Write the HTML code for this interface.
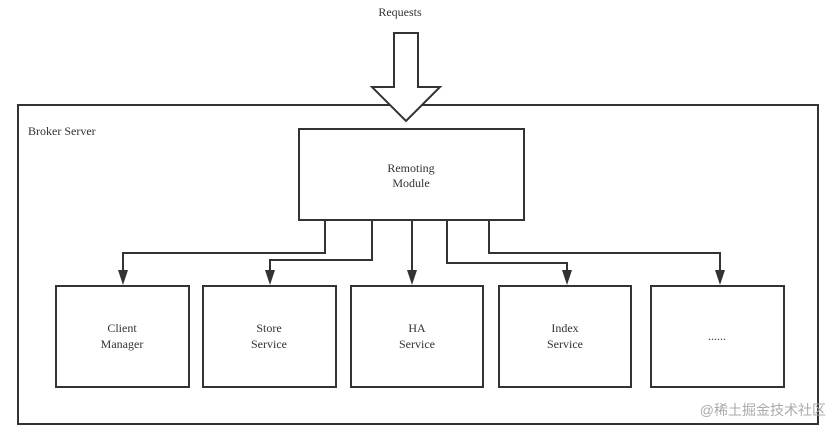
<!DOCTYPE html>
<html><head><style>
body{margin:0;background:#fff;}
svg text{font-family:"Liberation Serif",serif;font-size:12px;fill:#333;}
</style></head><body>
<svg width="835" height="428" viewBox="0 0 835 428" xmlns="http://www.w3.org/2000/svg">
<g stroke="#333" stroke-width="2" fill="none">
<rect x="18" y="105" width="800" height="319" fill="#fff"/>
<path d="M394,33 L418,33 L418,87 L440,87 L406,121 L372,87 L394,87 Z" fill="#fff"/>
<rect x="299" y="129" width="225" height="91" fill="#fff"/>
<rect x="56" y="286" width="133" height="101"/>
<rect x="203" y="286" width="133" height="101"/>
<rect x="351" y="286" width="132" height="101"/>
<rect x="499" y="286" width="132" height="101"/>
<rect x="651" y="286" width="133" height="101"/>
<path d="M325,220 V253 H123 V272"/>
<path d="M372,220 V260 H270 V272"/>
<path d="M412,220 V272"/>
<path d="M447,220 V263 H567 V272"/>
<path d="M489,220 V253 H720 V272"/>
</g>
<g fill="#333">
<path d="M118,270 L128,270 L123,285 Z"/>
<path d="M265,270 L275,270 L270,285 Z"/>
<path d="M407,270 L417,270 L412,285 Z"/>
<path d="M562,270 L572,270 L567,285 Z"/>
<path d="M715,270 L725,270 L720,285 Z"/>
</g>
<text x="400" y="16" text-anchor="middle">Requests</text>
<text x="28" y="135">Broker Server</text>
<text x="411" y="172" text-anchor="middle">Remoting</text>
<text x="411" y="187" text-anchor="middle">Module</text>
<text x="122" y="332" text-anchor="middle">Client</text>
<text x="122" y="348" text-anchor="middle">Manager</text>
<text x="269" y="332" text-anchor="middle">Store</text>
<text x="269" y="348" text-anchor="middle">Service</text>
<text x="417" y="332" text-anchor="middle">HA</text>
<text x="417" y="348" text-anchor="middle">Service</text>
<text x="565" y="332" text-anchor="middle">Index</text>
<text x="565" y="348" text-anchor="middle">Service</text>
<text x="717" y="340" text-anchor="middle">......</text>
<text x="826" y="415" text-anchor="end" style="font-family:'Liberation Sans','Noto Sans CJK SC',sans-serif;font-size:14px;fill:#aaa">@稀土掘金技术社区</text>
</svg>
</body></html>
